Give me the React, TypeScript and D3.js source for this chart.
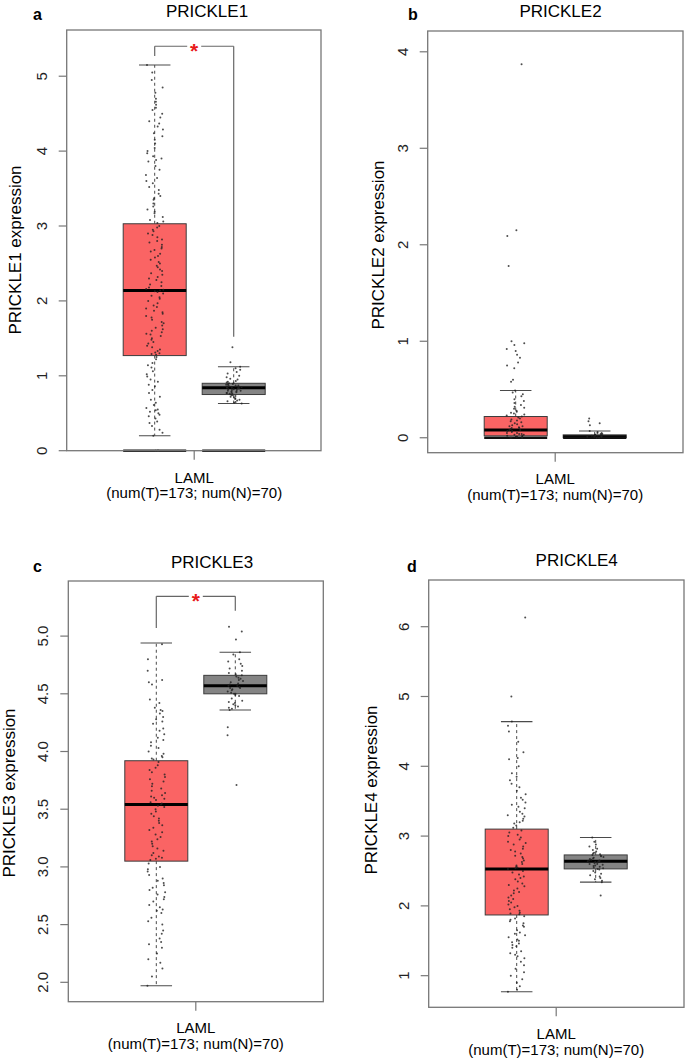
import React from "react";
import * as d3 from "d3";

// ---------- data ----------
const groups = ["Tumor", "Normal"];
const genes = ["PRICKLE1", "PRICKLE2", "PRICKLE3", "PRICKLE4"];
const panelLetters = ["a", "b", "c", "d"];
const xLabelLine1 = "LAML";
const xLabelLine2 = "(num(T)=173; num(N)=70)";

const yTicks1 = [0, 1, 2, 3, 4, 5];
const yTicks2 = [0, 1, 2, 3, 4];
const yTicks3 = [2.0, 2.5, 3.0, 3.5, 4.0, 4.5, 5.0];
const yTicks4 = [1, 2, 3, 4, 5, 6];

// box stats: [lower whisker, Q1, median, Q3, upper whisker]
const p1TumorBox = [0.2, 1.27, 2.14, 3.03, 5.15];
const p1NormalBox = [0.63, 0.75, 0.84, 0.9, 1.12];
const p2TumorBox = [0.0, 0.02, 0.08, 0.22, 0.49];
const p2NormalBox = [0.0, 0.0, 0.01, 0.03, 0.07];
const p3TumorBox = [1.97, 3.05, 3.54, 3.92, 4.94];
const p3NormalBox = [4.36, 4.5, 4.57, 4.66, 4.86];
const p4TumorBox = [0.77, 1.87, 2.53, 3.1, 4.64];
const p4NormalBox = [2.34, 2.53, 2.64, 2.73, 2.98];

// significance brackets: [top, left leg end, right leg end]
const p1Bracket = [5.4, 5.27, 1.52];
const p3Bracket = [5.345, 5.07, 5.22];

const p1TumorPts = [
  5.15, 5.05, 4.95, 4.85, 4.78, 4.7, 4.66, 4.62, 4.58, 4.55, 4.5, 4.45, 4.4, 4.37, 4.33, 4.29, 4.24, 4.2,
  4.15, 4.1, 4.04, 4.0, 3.97, 3.93, 3.9, 3.88, 3.86, 3.8, 3.75, 3.68, 3.64, 3.6, 3.57, 3.52, 3.48, 3.43,
  3.4, 3.37, 3.35, 3.3, 3.26, 3.22, 3.19, 3.17, 3.12, 3.08, 3.06, 3.04,
  3.0, 2.98, 2.95, 2.93, 2.9, 2.88, 2.85, 2.82, 2.8, 2.78, 2.75, 2.72, 2.7, 2.68, 2.66, 2.63, 2.6, 2.58,
  2.55, 2.52, 2.5, 2.47, 2.45, 2.42, 2.4, 2.37, 2.35, 2.32, 2.3, 2.28, 2.25, 2.22, 2.2, 2.18, 2.16, 2.15,
  2.14, 2.13, 2.12, 2.1, 2.07, 2.05, 2.03, 2.0, 1.97, 1.94, 1.92, 1.9, 1.87, 1.85, 1.83, 1.8, 1.78, 1.75,
  1.72, 1.7, 1.67, 1.64, 1.62, 1.6, 1.58, 1.56, 1.55, 1.53, 1.5, 1.48, 1.45, 1.43, 1.4, 1.38, 1.35, 1.33,
  1.31, 1.3, 1.29, 1.28,
  1.25, 1.22, 1.17, 1.14, 1.11, 1.06, 1.02, 0.99, 0.95, 0.92, 0.88, 0.86, 0.81, 0.77, 0.72, 0.68, 0.64,
  0.61, 0.57, 0.55, 0.54, 0.52, 0.5, 0.48, 0.46, 0.43, 0.39, 0.37, 0.33, 0.28, 0.24, 0.2, 0, 0, 0, 0,
];
const p1NormalPts = [
  1.38, 1.18, 1.12, 1.1, 1.08, 1.05, 1.03, 1.0, 0.98, 0.96, 0.95, 0.93, 0.92, 0.91, 0.9, 0.9, 0.89, 0.89,
  0.88, 0.88, 0.87, 0.87, 0.86, 0.86, 0.85, 0.85, 0.84, 0.84, 0.84, 0.83, 0.83, 0.82, 0.82, 0.81, 0.81,
  0.8, 0.8, 0.79, 0.79, 0.78, 0.78, 0.77, 0.77, 0.76, 0.76, 0.75, 0.75, 0.74, 0.73, 0.72, 0.71, 0.7,
  0.69, 0.68, 0.67, 0.66, 0.65, 0.64, 0.63,
];
const p2TumorPts = [
  3.87, 2.15, 2.09, 1.78, 1.0, 0.98, 0.96, 0.92, 0.9, 0.86, 0.83, 0.78, 0.75, 0.72, 0.6, 0.58, 0.49,
  0.47, 0.45, 0.43, 0.4, 0.38, 0.36, 0.34, 0.32, 0.31, 0.3, 0.28, 0.27, 0.26, 0.25, 0.24, 0.23, 0.22,
  0.21, 0.2, 0.19, 0.18, 0.17, 0.16, 0.15, 0.14, 0.13, 0.12, 0.12, 0.11, 0.1, 0.1, 0.09, 0.08, 0.08,
  0.07, 0.07, 0.06, 0.05, 0.05, 0.04, 0.04, 0.03, 0.03, 0.02, 0.02, 0.01, 0.01, 0.01, 0, 0, 0, 0,
];
const p2NormalPts = [
  0.2, 0.17, 0.15, 0.13, 0.07, 0.06, 0.05, 0.05, 0.04, 0.04, 0.03, 0.03, 0.03, 0.02, 0.02, 0.02, 0.01,
  0.01, 0.01, 0.01, 0, 0, 0, 0,
];
const p3TumorPts = [
  4.93, 4.8, 4.7, 4.62, 4.6, 4.58, 4.45, 4.42, 4.38, 4.36, 4.35, 4.33, 4.3, 4.28, 4.26, 4.24, 4.2, 4.18,
  4.15, 4.12, 4.1, 4.08, 4.05, 4.03, 4.0, 3.98, 3.96, 3.95, 3.94, 3.93,
  3.91, 3.88, 3.86, 3.84, 3.82, 3.8, 3.78, 3.76, 3.74, 3.72, 3.7, 3.68, 3.66, 3.64, 3.62, 3.61, 3.6,
  3.59, 3.58, 3.56, 3.55, 3.54, 3.53, 3.52, 3.5, 3.48, 3.46, 3.44, 3.42, 3.4, 3.38, 3.36, 3.34, 3.32,
  3.3, 3.28, 3.26, 3.24, 3.22, 3.2, 3.18, 3.16, 3.14, 3.12, 3.1, 3.09, 3.08, 3.07, 3.06,
  3.03, 3.0, 2.98, 2.96, 2.93, 2.9, 2.88, 2.86, 2.84, 2.82, 2.8, 2.78, 2.76, 2.74, 2.72, 2.7, 2.67,
  2.65, 2.63, 2.62, 2.6, 2.56, 2.53, 2.5, 2.45, 2.42, 2.38, 2.35, 2.33, 2.3, 2.25, 2.2, 2.17, 2.12,
  2.05, 1.97,
];
const p3NormalPts = [
  5.08, 5.04, 4.97, 4.86, 4.84, 4.8, 4.78, 4.76, 4.74, 4.72, 4.7, 4.68, 4.67, 4.66, 4.65, 4.64, 4.63,
  4.62, 4.61, 4.6, 4.59, 4.58, 4.57, 4.57, 4.56, 4.55, 4.55, 4.54, 4.53, 4.52, 4.51, 4.5, 4.5, 4.49,
  4.48, 4.46, 4.44, 4.43, 4.42, 4.41, 4.4, 4.39, 4.38, 4.37, 4.36, 4.21, 4.14, 3.71,
];
const p4TumorPts = [
  6.13, 5.0, 4.64, 4.58, 4.5, 4.35, 4.2, 4.12, 4.1, 4.0, 3.9, 3.85, 3.8, 3.75, 3.7, 3.65, 3.6, 3.55,
  3.52, 3.48, 3.45, 3.42, 3.4, 3.35, 3.32, 3.3, 3.28, 3.25, 3.22, 3.2, 3.18, 3.15, 3.12,
  3.08, 3.05, 3.02, 3.0, 2.98, 2.95, 2.92, 2.9, 2.88, 2.85, 2.82, 2.8, 2.78, 2.75, 2.72, 2.7, 2.68,
  2.65, 2.63, 2.6, 2.58, 2.56, 2.55, 2.54, 2.53, 2.5, 2.48, 2.45, 2.42, 2.4, 2.38, 2.35, 2.32, 2.3,
  2.28, 2.25, 2.22, 2.2, 2.18, 2.15, 2.12, 2.1, 2.07, 2.05, 2.02, 2.0, 1.98, 1.95, 1.93, 1.9, 1.89, 1.88,
  1.85, 1.82, 1.8, 1.78, 1.75, 1.72, 1.7, 1.65, 1.62, 1.6, 1.58, 1.55, 1.52, 1.5, 1.48, 1.46, 1.44,
  1.42, 1.4, 1.35, 1.32, 1.3, 1.28, 1.25, 1.2, 1.15, 1.1, 1.05, 1.0, 0.95, 0.9, 0.85, 0.8, 0.77,
];
const p4NormalPts = [
  2.98, 2.92, 2.88, 2.85, 2.82, 2.8, 2.78, 2.76, 2.75, 2.74, 2.73, 2.72, 2.71, 2.7, 2.69, 2.68, 2.67,
  2.66, 2.65, 2.65, 2.64, 2.64, 2.63, 2.63, 2.62, 2.61, 2.6, 2.6, 2.59, 2.58, 2.57, 2.56, 2.55, 2.54,
  2.53, 2.52, 2.5, 2.48, 2.46, 2.44, 2.42, 2.4, 2.38, 2.36, 2.34, 2.15,
];

// ---------- styles / layout ----------
const FONT = "Liberation Sans, Arial, Helvetica, sans-serif";
const TUMOR_FILL = "#FA6464";
const NORMAL_FILL = "#848484";
const FRAME = "#777";

type Layout = {
  x0: number; y0: number; x1: number; y1: number;
  domain: [number, number];
  title: [number, number];
  letter: [number, number];
  yTitle: [number, number];
  lab1: number; lab2: number;
};

const layouts: Layout[] = [
  { x0: 66.7, y0: 30, x1: 321, y1: 450.7, domain: [0, 5.617], title: [207, 17], letter: [33, 20], yTitle: [20.5, 250], lab1: 482.5, lab2: 497.5 },
  { x0: 427.7, y0: 31, x1: 683, y1: 452.7, domain: [-0.155, 4.2155], title: [560.5, 17], letter: [408, 20], yTitle: [383.5, 245], lab1: 484.3, lab2: 500 },
  { x0: 68.3, y0: 581, x1: 323.3, y1: 1001.7, domain: [1.832, 5.4775], title: [212, 567.5], letter: [33, 571.5], yTitle: [15, 793], lab1: 1033.3, lab2: 1048.5 },
  { x0: 428.7, y0: 580, x1: 684, y1: 1007.3, domain: [0.547, 6.669], title: [576.7, 566], letter: [407, 571.5], yTitle: [377, 790], lab1: 1039.3, lab2: 1055 },
];

// deterministic horizontal jitter (display spread only, not data)
const jitter = (i: number, seed: number, amp: number) => {
  const s = Math.sin((i + 1) * 12.9898 + seed * 78.233) * 43758.5453;
  return ((s - Math.floor(s)) * 2 - 1) * amp;
};

type PanelProps = {
  L: Layout;
  gene: string;
  letter: string;
  ticks: number[];
  fmt: (v: number) => string;
  boxes: number[][];
  pts: number[][];
  bracket?: number[];
  zeroLine?: boolean;
  seed: number;
};

function Panel({ L, gene, letter, ticks, fmt, boxes, pts, bracket, zeroLine, seed }: PanelProps) {
  const y = d3.scaleLinear().domain(L.domain).range([L.y1, L.y0]);
  const xb = d3.scaleBand<string>().domain(groups).range([L.x0 + 56.5, L.x0 + 198.5]).paddingInner(0.2025);
  const bw = xb.bandwidth();
  const [r0, r1] = xb.range();
  const tickX = (r0 + r1) / 2;
  const fills = [TUMOR_FILL, NORMAL_FILL];
  const lineStroke = "#4a4a4a";

  return (
    <g>
      <text x={L.letter[0]} y={L.letter[1]} fontFamily={FONT} fontSize={16} fontWeight="bold">{letter}</text>
      <text x={L.title[0]} y={L.title[1]} fontFamily={FONT} fontSize={17} textAnchor="middle">{gene}</text>
      <text
        x={L.yTitle[0]} y={L.yTitle[1]} fontFamily={FONT} fontSize={17} textAnchor="middle"
        transform={`rotate(-90, ${L.yTitle[0]}, ${L.yTitle[1]})`}
      >{`${gene} expression`}</text>

      {/* y axis */}
      {ticks.map((t) => (
        <g key={t}>
          <line x1={L.x0 - 8} x2={L.x0} y1={y(t)} y2={y(t)} stroke={FRAME} strokeWidth={1.2} />
          <text
            x={L.x0 - 20} y={y(t)} fontFamily={FONT} fontSize={15} textAnchor="middle" fill="#222"
            transform={`rotate(-90, ${L.x0 - 20}, ${y(t)})`}
          >{fmt(t)}</text>
        </g>
      ))}

      {/* x axis tick + labels */}
      <line x1={tickX} x2={tickX} y1={L.y1} y2={L.y1 + 9} stroke={FRAME} strokeWidth={1.2} />
      <text x={tickX} y={L.lab1} fontFamily={FONT} fontSize={15} textAnchor="middle">{xLabelLine1}</text>
      <text x={tickX} y={L.lab2} fontFamily={FONT} fontSize={15} textAnchor="middle">{xLabelLine2}</text>

      {/* boxes */}
      {groups.map((g, gi) => {
        const [lo, q1, med, q3, hi] = boxes[gi];
        const bx = xb(g) as number;
        const cx = bx + bw / 2;
        return (
          <g key={g}>
            <line x1={cx} x2={cx} y1={y(q3)} y2={y(hi)} stroke={lineStroke} strokeWidth={1} strokeDasharray="3,3" />
            <line x1={cx} x2={cx} y1={y(q1)} y2={y(lo)} stroke={lineStroke} strokeWidth={1} strokeDasharray="3,3" />
            <line x1={cx - bw / 4} x2={cx + bw / 4} y1={y(hi)} y2={y(hi)} stroke={lineStroke} strokeWidth={1.1} />
            <line x1={cx - bw / 4} x2={cx + bw / 4} y1={y(lo)} y2={y(lo)} stroke={lineStroke} strokeWidth={1.1} />
            <rect x={bx} y={y(q3)} width={bw} height={Math.max(y(q1) - y(q3), 0.5)} fill={fills[gi]} stroke="#3c3c3c" strokeWidth={1} />
            <line x1={bx} x2={bx + bw} y1={y(med)} y2={y(med)} stroke="#000" strokeWidth={3} />
            {zeroLine && (
              <line x1={bx} x2={bx + bw} y1={y(0)} y2={y(0)} stroke="#111" strokeWidth={2.6} />
            )}
            {pts[gi].map((v, i) => (
              <circle key={i} cx={cx + jitter(i, seed * 2 + gi, gi === 0 ? 9 : 8)} cy={y(v)} r={1} fill="#222" fillOpacity={0.8} />
            ))}
          </g>
        );
      })}

      {/* significance bracket */}
      {bracket && (() => {
        const xl = (xb(groups[0]) as number) + bw / 2;
        const xr = (xb(groups[1]) as number) + bw / 2;
        const xm = (xl + xr) / 2;
        const top = y(bracket[0]);
        return (
          <g stroke="#666" strokeWidth={1.2} fill="none">
            <line x1={xl} x2={xl} y1={top} y2={y(bracket[1])} />
            <line x1={xr} x2={xr} y1={top} y2={y(bracket[2])} />
            <line x1={xl} x2={xm - 7} y1={top} y2={top} />
            <line x1={xm + 7} x2={xr} y1={top} y2={top} />
            <text x={xm} y={top + 12} fill="#E8191A" stroke="none" fontFamily={FONT} fontSize={21} fontWeight="bold" textAnchor="middle">*</text>
          </g>
        );
      })()}

      {/* frame */}
      <rect x={L.x0} y={L.y0} width={L.x1 - L.x0} height={L.y1 - L.y0} fill="none" stroke={FRAME} strokeWidth={1.3} />
    </g>
  );
}

export default function App() {
  const intFmt = (v: number) => d3.format("d")(v);
  const decFmt = (v: number) => d3.format(".1f")(v);
  return (
    <svg width={685} height={1059} style={{ position: "absolute", left: 0, top: 0, background: "#fff" }}>
      <rect width={685} height={1059} fill="#fff" />
      <Panel L={layouts[0]} gene={genes[0]} letter={panelLetters[0]} ticks={yTicks1} fmt={intFmt} seed={1}
        boxes={[p1TumorBox, p1NormalBox]} pts={[p1TumorPts, p1NormalPts]} bracket={p1Bracket} zeroLine />
      <Panel L={layouts[1]} gene={genes[1]} letter={panelLetters[1]} ticks={yTicks2} fmt={intFmt} seed={2}
        boxes={[p2TumorBox, p2NormalBox]} pts={[p2TumorPts, p2NormalPts]} zeroLine />
      <Panel L={layouts[2]} gene={genes[2]} letter={panelLetters[2]} ticks={yTicks3} fmt={decFmt} seed={3}
        boxes={[p3TumorBox, p3NormalBox]} pts={[p3TumorPts, p3NormalPts]} bracket={p3Bracket} />
      <Panel L={layouts[3]} gene={genes[3]} letter={panelLetters[3]} ticks={yTicks4} fmt={intFmt} seed={4}
        boxes={[p4TumorBox, p4NormalBox]} pts={[p4TumorPts, p4NormalPts]} />
    </svg>
  );
}
